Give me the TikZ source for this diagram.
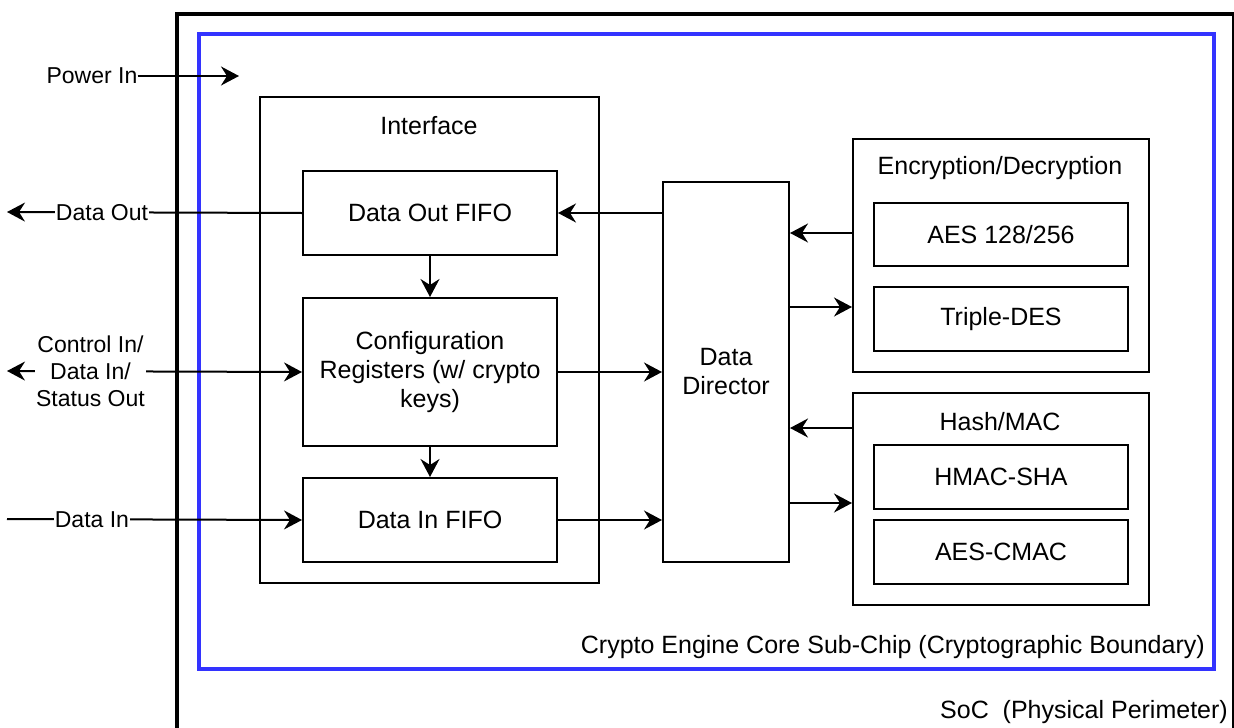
\documentclass[tikz,border=0pt]{standalone}
\usepackage{fontspec}
\setmainfont{Liberation Sans}
\usetikzlibrary{arrows.meta}
\definecolor{boundary}{RGB}{51,51,255}
\begin{document}
\begin{tikzpicture}[x=1pt,y=-1pt,
  font=\fontsize{25pt}{29pt}\selectfont,
  box/.style={draw, line width=2pt, inner sep=0pt, anchor=north west, align=center},
  title/.style={inner sep=0pt},
  lbl/.style={fill=white, inner sep=1pt, align=center, font=\fontsize{23pt}{27pt}\selectfont},
  flow/.style={line width=2pt, -{Stealth[length=18pt,width=19pt,inset=6pt]}},
  biflow/.style={line width=2pt, {Stealth[length=18pt,width=19pt,inset=6pt]}-{Stealth[length=18pt,width=19pt,inset=6pt]}}]

\useasboundingbox (0,0) rectangle (1234,728);
\clip (0,0) rectangle (1234,728);
\fill[white] (0,0) rectangle (1234,728);

% physical perimeter (runs past the lower edge) and cryptographic boundary
\node[box, line width=4pt, minimum width=1057pt, minimum height=760pt] (soc) at (175,12) {};
\node[box, draw=boundary, line width=4pt, minimum width=1015pt, minimum height=635pt] (core) at (197,32) {};
\node[anchor=east, inner sep=0pt] (corelbl) at (1205,647) {Crypto Engine Core Sub-Chip (Cryptographic Boundary)};
\node[anchor=east, inner sep=0pt] (soclbl) at (1228,712) {SoC\ \ (Physical Perimeter)};

% interface block
\node[box, minimum width=339pt, minimum height=486pt] (iface) at (259,96) {};
\node[title] (ifacettl) at (429,126) {Interface};
\node[box, minimum width=254pt, minimum height=84pt] (dofifo) at (302,170) {Data Out FIFO};
\node[box, minimum width=254pt, minimum height=148pt] (cfg) at (302,297) {Configuration\\Registers (w/ crypto\\keys)};
\node[box, minimum width=254pt, minimum height=84pt] (difo) at (302,477) {Data In FIFO};

% data director
\node[box, minimum width=126pt, minimum height=380pt] (dd) at (662,181) {Data\\Director};

% encryption engines
\node[box, minimum width=296pt, minimum height=233pt] (enc) at (852,138) {};
\node[title] (encttl) at (1000,168) {Encryption/Decryption};
\node[box, minimum width=254pt, minimum height=63pt] (aes) at (873,202) {AES 128/256};
\node[box, minimum width=254pt, minimum height=64pt] (tdes) at (873,286) {Triple-DES};

% hash / MAC engines
\node[box, minimum width=296pt, minimum height=212pt] (hash) at (852,392) {};
\node[title] (hashttl) at (1000,422) {Hash/MAC};
\node[box, minimum width=254pt, minimum height=64pt] (hmac) at (873,444) {HMAC-SHA};
\node[box, minimum width=254pt, minimum height=64pt] (cmac) at (873,519) {AES-CMAC};

% external ports
\node[inner sep=0pt, font=\fontsize{23pt}{27pt}\selectfont] (pwr) at (92,76) {Power In};
\coordinate (pwrend) at (239,76);
\coordinate (doutend) at (7,212);
\coordinate (ctlend) at (7,371);
\coordinate (dinstart) at (7,519);

% rows of the engine links
\coordinate (y233) at (0,233);
\coordinate (y307) at (0,307);
\coordinate (y428) at (0,428);
\coordinate (y503) at (0,503);

% connectors
\draw[flow] (pwr.east) -- (pwrend);
\draw[flow] (dofifo.west) -- node[lbl, pos=0.678] {Data Out} (doutend);
\draw[biflow] (ctlend) -- node[lbl, pos=0.283] {Control In/\\Data In/\\Status Out} (cfg.west);
\draw[flow] (dinstart) -- node[lbl, pos=0.288] {Data In} (difo.west);

\draw[flow] (dofifo.south) -- (cfg.north);
\draw[flow] (cfg.south) -- (difo.north);

\draw[flow] (dd.west |- dofifo.east) -- (dofifo.east);
\draw[flow] (cfg.east) -- (dd.west |- cfg.east);
\draw[flow] (difo.east) -- (dd.west |- difo.east);

\draw[flow] (enc.west |- y233) -- (dd.east |- y233);
\draw[flow] (dd.east |- y307) -- (enc.west |- y307);
\draw[flow] (hash.west |- y428) -- (dd.east |- y428);
\draw[flow] (dd.east |- y503) -- (hash.west |- y503);
\end{tikzpicture}
\end{document}
